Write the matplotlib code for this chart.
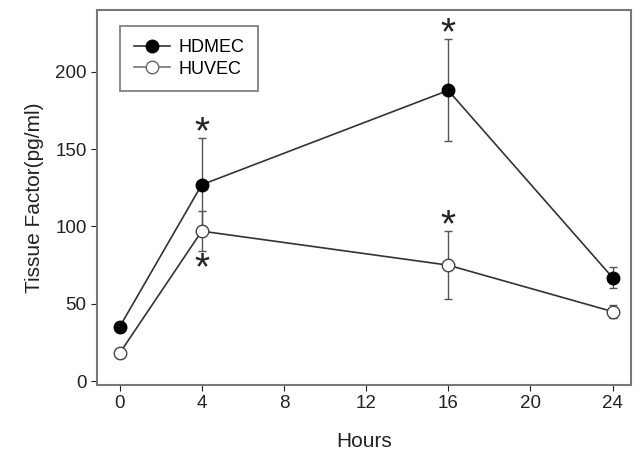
import matplotlib
matplotlib.use("Agg")
import matplotlib.pyplot as plt
from matplotlib.lines import Line2D

hours = [0, 4, 16, 24]
hdmec = [35, 127, 188, 67]
hdmec_err = [3, 30, 33, 7]
huvec = [18, 97, 75, 45]
huvec_err = [3, 13, 22, 4]
xticks = [0, 4, 8, 12, 16, 20, 24]
yticks = [0, 50, 100, 150, 200]
stars_x = [4, 4, 16, 16]
stars_y = [160, 72, 224, 100]

plt.rcParams['font.family'] = ['Liberation Sans', 'DejaVu Sans']
fig = plt.figure(figsize=(6.41, 4.67), dpi=100)
ax = fig.add_axes([97/641, 1-385/467, (631-97)/641, (385-10)/467])

lc = '#333333'
ax.errorbar(hours, hdmec, yerr=hdmec_err, color=lc, lw=1.2, marker='o', ms=9,
            mfc='black', mec='black', ecolor='#555555', elinewidth=1, capsize=3,
            zorder=3)
ax.errorbar(hours, huvec, yerr=huvec_err, color=lc, lw=1.2, marker='o', ms=9,
            mfc='white', mec='#444444', ecolor='#555555', elinewidth=1, capsize=3,
            zorder=3)
for sx, sy in zip(stars_x, stars_y):
    ax.text(sx, sy, '*', ha='center', va='center', fontsize=28, color='#222222')

ax.set_xlim(-1.1, 24.9)
ax.set_ylim(-2.5, 240)
ax.set_xticks(xticks)
ax.set_yticks(yticks)
ax.tick_params(labelsize=13.5, colors='#222222', direction='out', length=4)
for s in ax.spines.values():
    s.set_color('#777777')
    s.set_linewidth(1.5)
ax.set_xlabel('Hours', fontsize=15, labelpad=14, color='#222222')
ax.set_ylabel('Tissue Factor(pg/ml)', fontsize=15, labelpad=8, color='#222222')
handles = [Line2D([], [], color=lc, lw=1.2, marker='o', ms=9, mfc='black', mec='black'),
           Line2D([], [], color='#777777', lw=1.2, marker='o', ms=9, mfc='white', mec='#666666')]
leg = ax.legend(handles, ['HDMEC', 'HUVEC'], loc='upper left', bbox_to_anchor=(0.043, 0.958),
                fontsize=13, frameon=True, fancybox=False, edgecolor='#555555',
                handlelength=2.0, borderpad=0.75, labelspacing=0.25, handletextpad=0.5,
                borderaxespad=0)
leg.get_frame().set_linewidth(1.2)
fig.savefig('out.png', dpi=100)
